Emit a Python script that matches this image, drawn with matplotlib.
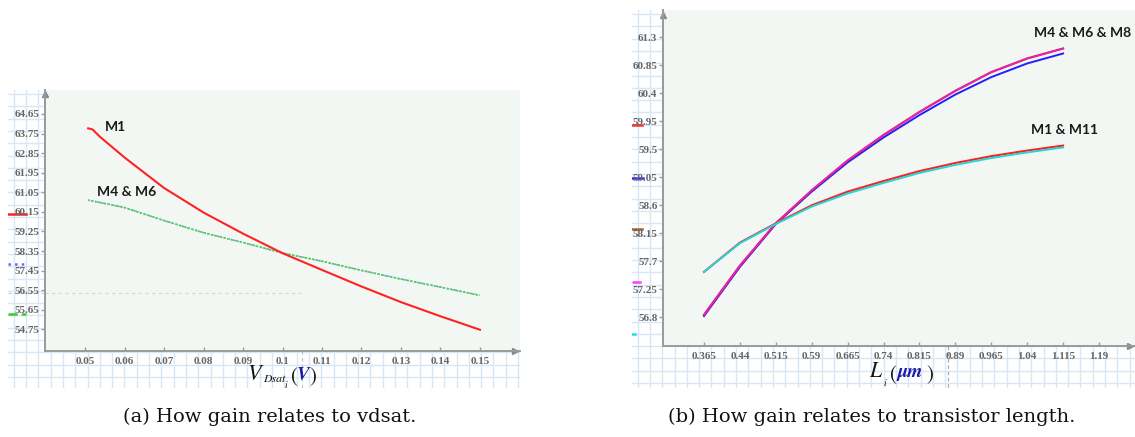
#!/usr/bin/env python3
# -*- coding: utf-8 -*-
import numpy as np
import matplotlib
matplotlib.use("Agg")
import matplotlib.pyplot as plt

# (a) gain vs vdsat
vdsat_m1 = [0.0508, 0.0519, 0.0538, 0.06, 0.07, 0.08, 0.09, 0.10, 0.11, 0.12, 0.13, 0.14, 0.15]
gain_m1 = [63.99, 63.94, 63.60, 62.65, 61.25, 60.12, 59.15, 58.25, 57.48, 56.72, 56.00, 55.35, 54.73]
vdsat_m46 = [0.0508, 0.06, 0.07, 0.08, 0.09, 0.10, 0.11, 0.12, 0.13, 0.14, 0.15]
gain_m46 = [60.69, 60.35, 59.75, 59.19, 58.74, 58.26, 57.88, 57.46, 57.06, 56.69, 56.31]
xticks_a = [0.05, 0.06, 0.07, 0.08, 0.09, 0.1, 0.11, 0.12, 0.13, 0.14, 0.15]
yticks_a = [54.75, 55.65, 56.55, 57.45, 58.35, 59.25, 60.15, 61.05, 61.95, 62.85, 63.75, 64.65]

# (b) gain vs length
length = [0.365, 0.44, 0.515, 0.59, 0.665, 0.74, 0.815, 0.89, 0.965, 1.04, 1.115]
gain_m468_red = [56.84, 57.63, 58.31, 58.84, 59.32, 59.73, 60.10, 60.44, 60.74, 60.96, 61.12]
gain_m468_blue = [56.82, 57.61, 58.30, 58.82, 59.29, 59.69, 60.05, 60.38, 60.66, 60.88, 61.04]
gain_m111_red = [57.53, 58.00, 58.31, 58.60, 58.82, 58.99, 59.15, 59.28, 59.39, 59.48, 59.56]
gain_m111_cyan = [57.53, 57.99, 58.30, 58.58, 58.79, 58.96, 59.12, 59.25, 59.36, 59.45, 59.53]
xticks_b = [0.365, 0.44, 0.515, 0.59, 0.665, 0.74, 0.815, 0.89, 0.965, 1.04, 1.115, 1.19]
xticklabels_b = ["0.365", "0.44", "0.515", "0.59", "0.665", "0.74", "0.815", "0.89", "0.965", "1.04", "1.115", "1.19"]
yticks_b = [56.8, 57.25, 57.7, 58.15, 58.6, 59.05, 59.5, 59.95, 60.4, 60.85, 61.3]

W, H = 1135, 437


def rect(x0, y0, x1, y1):
    # pixel box -> figure fraction [left, bottom, width, height]
    return [x0 / W, 1 - y1 / H, (x1 - x0) / W, (y1 - y0) / H]


def ptext(fig, x, y, s, **kw):
    # text placed by pixel position (baseline)
    kw.setdefault("color", "#111111")
    kw.setdefault("family", "STIXGeneral")
    return fig.text(x / W, 1 - y / H, s, va="baseline", **kw)


def grid_paper(fig, box, marks):
    x0, y0, x1, y1 = box
    bg = fig.add_axes(rect(*box))
    bg.set_xlim(x0, x1)
    bg.set_ylim(y1, y0)
    bg.set_facecolor("#fafcfe")
    for x in np.arange(x0 + 5.7, x1, 12.3):
        bg.axvline(x, color="#d7e7f6", lw=1.0)
    for y in np.arange(y0 + 4.0, y1, 12.3):
        bg.axhline(y, color="#d7e7f6", lw=1.0)
    # little trace colour keys at the left edge
    for (ya, xa, xb, c, ls) in marks:
        bg.plot([xa, xb], [ya, ya], color=c, ls=ls, lw=1.8)
    bg.axis("off")
    return bg


def style_axes(ax, xlim, ylim, xticks, yticks, xlabels=None):
    ax.set_facecolor("#f3f7f4")
    ax.set_xlim(*xlim)
    ax.set_ylim(*ylim)
    for s in ["top", "right"]:
        ax.spines[s].set_visible(False)
    for s in ["left", "bottom"]:
        ax.spines[s].set_color("#9a9a9a")
        ax.spines[s].set_linewidth(1.4)
    ax.set_xticks(xticks)
    if xlabels is not None:
        ax.set_xticklabels(xlabels)
    else:
        ax.set_xticklabels([("%g" % v) for v in xticks])
    ax.set_yticks(yticks)
    ax.set_yticklabels([("%g" % v) for v in yticks])
    ax.tick_params(axis="x", direction="in", length=3, width=1, color="#9a9a9a", pad=4,
                   labelsize=8, labelcolor="#666666")
    ax.tick_params(axis="y", direction="out", length=3, width=1, color="#9a9a9a", pad=1,
                   labelsize=8, labelcolor="#666666")
    for lab in ax.get_xticklabels() + ax.get_yticklabels():
        lab.set_family("Liberation Serif")
        lab.set_fontweight("bold")
    ax.plot(0.99, 0, ">", color="#8a8a8a", ms=5, transform=ax.transAxes, clip_on=False)
    ax.plot(0, 0.985, "^", color="#8a8a8a", ms=5, transform=ax.transAxes, clip_on=False)


def main():
    fig = plt.figure(figsize=(11.35, 4.37), dpi=100)

    # ---- (a) ----
    bg1 = grid_paper(fig, (8, 90, 520, 388),
                     [(214, 8, 26, "#ff2020", "-"), (264, 8, 26, "#6a6aff", ":"),
                      (314, 8, 26, "#30d030", "--")])
    bg1.plot([8, 45], [293, 293], color="#c8cfd0", lw=0.8, ls=(0, (3, 3)))
    bg1.plot([302, 302], [351, 388], color="#b8c0c4", lw=0.8, ls=(0, (3, 3)))

    ax1 = fig.add_axes(rect(45, 90, 520, 351))
    style_axes(ax1, (0.03987, 0.16013), (53.753, 65.753), xticks_a, yticks_a)
    ax1.axhline(56.42, xmax=(302 - 45) / 475, color="#d3d9da", lw=0.8, ls=(0, (3, 3)))
    ax1.plot(vdsat_m46, gain_m46, color="#8080ff", lw=1.1, ls=(0, (1, 1.2)))
    ax1.plot(vdsat_m46, gain_m46, color="#52d452", lw=1.2, ls=(0.8, (1.6, 0.9)))
    ax1.plot(vdsat_m1, gain_m1, color="#ff2222", lw=1.5)
    ax1.text(0.0578, 64.07, "M1", family="Lato", weight="bold", size=10, color="#1a1a1a",
             ha="center", va="center")
    ax1.text(0.0605, 61.06, "M4 & M6", family="Lato", weight="bold", size=10, color="#1a1a1a",
             ha="center", va="center")

    ptext(fig, 247, 380, "V", size=16, style="italic")
    ptext(fig, 263, 382, "Dsat", size=8.5, style="italic")
    ptext(fig, 285, 388, "i", size=7, style="italic")
    ptext(fig, 291, 382, "(", size=15)
    ptext(fig, 297, 380, "V", size=13.5, style="italic", weight="bold", color="#1c1ca8")
    ptext(fig, 309, 382, ")", size=15)

    # ---- (b) ----
    bg2 = grid_paper(fig, (632, 10, 1135, 388),
                     [(125, 632, 642, "#ff3030", "-"), (178, 632, 643, "#3030ff", "-"),
                      (229, 632, 642, "#a06030", "-"), (282, 632, 642, "#ff40ff", "--"),
                      (334, 632, 635, "#20e0e0", "-")])
    bg2.plot([948, 948], [346, 388], color="#a8b0b4", lw=0.9, ls=(0, (3, 2)))

    ax2 = fig.add_axes(rect(663, 10, 1135, 346))
    style_axes(ax2, (0.2794, 1.2652), (56.339, 61.739), xticks_b, yticks_b, xticklabels_b)
    ax2.plot(length, gain_m468_blue, color="#2020ff", lw=1.4)
    ax2.plot(length, gain_m468_red, color="#e02020", lw=1.6)
    ax2.plot(length, gain_m468_red, color="#e020e0", lw=1.0)
    ax2.plot(length, gain_m111_red, color="#ff2020", lw=1.5)
    ax2.plot(length, gain_m111_cyan, color="#20d8d8", lw=1.4)
    ax2.text(1.156, 61.37, "M4 & M6 & M8", family="Lato", weight="bold", size=10,
             color="#1a1a1a", ha="center", va="center")
    ax2.text(1.119, 59.81, "M1 & M11", family="Lato", weight="bold", size=10,
             color="#1a1a1a", ha="center", va="center")

    ptext(fig, 869, 377, "L", size=15.5, style="italic")
    ptext(fig, 884, 386, "i", size=7, style="italic")
    ptext(fig, 890, 380, "(", size=15)
    ptext(fig, 898, 377, "\u03bcm", size=14, style="italic", weight="bold", color="#1c1ca8")
    ptext(fig, 926, 380, ")", size=15)

    # captions
    fig.text(270 / W, 1 - 417 / H, "(a) How gain relates to vdsat.", family="DejaVu Serif",
             size=14, color="#111111", ha="center", va="center")
    fig.text(872 / W, 1 - 417 / H, "(b) How gain relates to transistor length.",
             family="DejaVu Serif", size=14, color="#111111", ha="center", va="center")

    fig.savefig("out.png", dpi=100, facecolor="white")


if __name__ == "__main__":
    main()
